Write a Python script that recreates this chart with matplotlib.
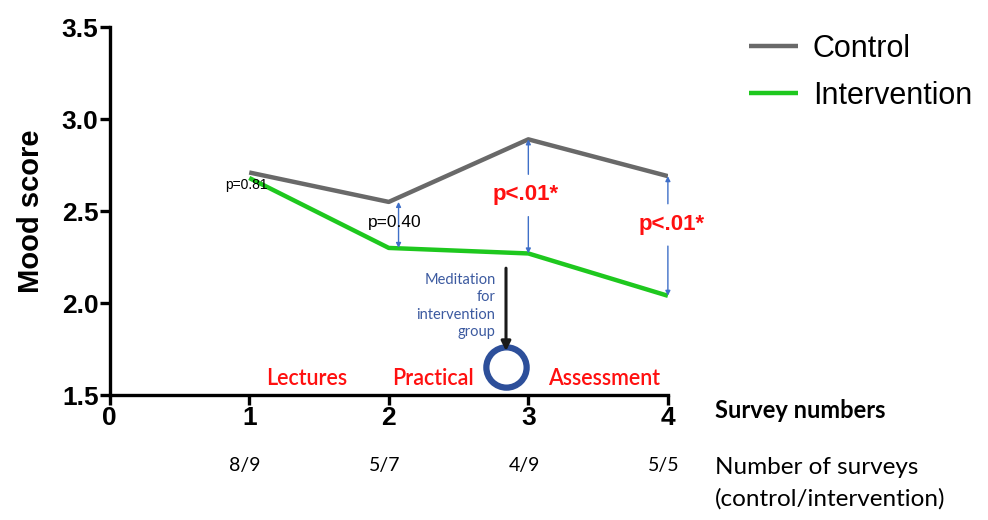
import matplotlib
matplotlib.use("Agg")
import matplotlib.pyplot as plt

surveys = [1, 2, 3, 4]
control = [2.71, 2.55, 2.89, 2.69]
intervention = [2.68, 2.30, 2.27, 2.04]
counts = ["8/9", "5/7", "4/9", "5/5"]
p_labels = ["p=0.81", "p=0.40", "p<.01*", "p<.01*"]
phases = ["Lectures", "Practical", "Assessment"]
phase_x = [1.41, 2.32, 3.54]

fig = plt.figure(figsize=(9.88, 5.2), dpi=100)
ax = fig.add_axes([0.111, 0.240, 0.565, 0.708])
ax.set_xlim(0, 4)
ax.set_ylim(1.5, 3.5)

ax.plot(surveys, control, color="#696969", lw=3.2, label="Control", solid_capstyle="butt")
ax.plot(surveys, intervention, color="#1ec81e", lw=3.2, label="Intervention", solid_capstyle="butt")

for s in ["top", "right"]:
    ax.spines[s].set_visible(False)
for s in ["left", "bottom"]:
    ax.spines[s].set_linewidth(2.4)
ax.set_xticks([0, 1, 2, 3, 4])
ax.set_yticks([1.5, 2.0, 2.5, 3.0, 3.5])
ax.set_yticklabels(["1.5", "2.0", "2.5", "3.0", "3.5"])
ax.tick_params(width=2.4, length=7, labelsize=19)
for lab in ax.get_xticklabels() + ax.get_yticklabels():
    lab.set_fontweight("bold")
    lab.set_family("Liberation Sans")
ax.tick_params(axis="y", pad=1)
ax.tick_params(axis="x", pad=1)
ax.set_ylabel("Mood score", fontsize=21, fontweight="bold", family="Liberation Sans", labelpad=12)

blue = "#3f6fc8"
red = "#ff1010"
arrow_kw = dict(arrowstyle="<|-|>", color=blue, lw=1.0, mutation_scale=7, shrinkA=0, shrinkB=0)
ax.annotate("", xy=(2.07, control[1]), xytext=(2.07, intervention[1]), arrowprops=arrow_kw)
one_kw = dict(arrowstyle="-|>", color=blue, lw=1.0, mutation_scale=7, shrinkA=0, shrinkB=0)
ax.annotate("", xy=(3.0, control[2]), xytext=(3.0, 2.70), arrowprops=one_kw)
ax.annotate("", xy=(3.0, intervention[2]), xytext=(3.0, 2.47), arrowprops=one_kw)
ax.annotate("", xy=(4.0, control[3]), xytext=(4.0, 2.54), arrowprops=one_kw)
ax.annotate("", xy=(4.0, intervention[3]), xytext=(4.0, 2.31), arrowprops=one_kw)

ax.text(0.98, 2.64, p_labels[0], fontsize=10, ha="center", va="center", family="Liberation Sans")
ax.text(2.04, 2.44, p_labels[1], fontsize=12.5, ha="center", va="center", family="Liberation Sans")
ax.text(2.98, 2.59, p_labels[2], fontsize=16, ha="center", va="center", color=red,
        family="Liberation Sans", fontweight="semibold")
ax.text(4.03, 2.43, p_labels[3], fontsize=16, ha="center", va="center", color=red,
        family="Liberation Sans", fontweight="semibold")

for name, px in zip(phases, phase_x):
    ax.text(px, 1.59, name, fontsize=15.5, ha="center", va="center", color=red, family="Lato",
            fontweight="semibold")

# meditation marker
ax.annotate("", xy=(2.84, 1.74), xytext=(2.84, 2.19),
            arrowprops=dict(arrowstyle="-|>", color="#1a1a1a", lw=2.2, mutation_scale=14, shrinkA=0, shrinkB=0))
ax.plot([2.84], [1.655], marker="o", ms=29, mfc="none", mec="#2d4f9a", mew=4.5, clip_on=False)
ax.text(2.765, 1.985, "Meditation\nfor\nintervention\ngroup", fontsize=10.5, ha="right", va="center",
        color="#3c5aa0", family="Lato", linespacing=1.3)

# counts below axis
for sx, c in zip(surveys, counts):
    ax.text(sx - 0.03, 1.12, c, fontsize=14, ha="center", va="center", family="Lato")

fig.text(0.724, 0.211, "Survey numbers", fontsize=17, fontweight="bold", ha="left", va="center", family="Lato")
fig.text(0.724, 0.071, "Number of surveys\n(control/intervention)", fontsize=17.5, ha="left", va="center",
         family="Lato", linespacing=1.55)

leg = fig.legend(loc="upper left", bbox_to_anchor=(0.73, 0.988), frameon=False,
                 handlelength=1.6, handletextpad=0.5, labelspacing=0.55,
                 prop={"family": "Liberation Sans", "size": 22})

fig.savefig("out.png", dpi=100)
